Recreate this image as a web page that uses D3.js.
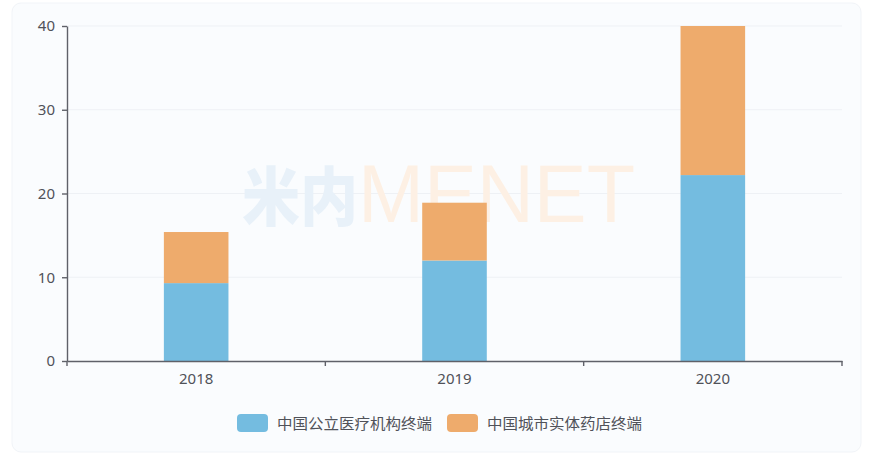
<!DOCTYPE html>
<html>
<head>
<meta charset="utf-8">
<script src="https://cdn.jsdelivr.net/npm/d3@7/dist/d3.min.js"></script>
<style>
  html, body { margin: 0; padding: 0; background: #ffffff; }
  svg { display: block; }
</style>
</head>
<body>
<svg id="chart" width="870" height="462"></svg>
<script>
const categories = ["2018", "2019", "2020"];
const seriesNames = ["中国公立医疗机构终端", "中国城市实体药店终端"];
const publicValues = [9.3, 12.0, 22.2];
const pharmacyValues = [6.1, 6.9, 17.8];
const yTicks = [0, 10, 20, 30, 40];
const colors = ["#74bce0", "#eeab6c"];

(function () {
const svg = d3.select("#chart");
const mLeft = 67, mRight = 842, mTop = 26, mBottom = 361;
const font = "'Noto Sans', 'Noto Sans CJK SC', sans-serif";

// card background
svg.append("rect").attr("x", 12).attr("y", 3).attr("width", 849).attr("height", 449)
  .attr("rx", 9).attr("fill", "#fafcfe").attr("stroke", "#f1f4f8").attr("stroke-width", 1);

const x = d3.scaleBand().domain(categories).range([mLeft, mRight]).padding(0);
const xBar = d3.scaleBand().domain(categories).range([mLeft, mRight]).paddingInner(0.75).paddingOuter(0.375);
const y = d3.scaleLinear().domain([0, 40]).range([mBottom, mTop]);

// gridlines
svg.append("g").selectAll("line").data(yTicks.filter(d => d > 0)).join("line")
  .attr("x1", mLeft).attr("x2", mRight)
  .attr("y1", d => y(d)).attr("y2", d => y(d))
  .attr("stroke", "#eef1f5").attr("stroke-width", 1);

// watermark
const wm = svg.append("g");
wm.append("text").attr("x", 242).attr("y", 220).text("米内")
  .attr("font-family", "'Noto Sans CJK SC', sans-serif").attr("font-weight", 900)
  .attr("font-size", 64).attr("fill", "#e8f1f9").attr("textLength", 116).attr("lengthAdjust", "spacingAndGlyphs");
wm.append("text").attr("x", 358).attr("y", 222).text("MENET")
  .attr("font-family", "'Liberation Sans', Arial, sans-serif").attr("font-weight", 400)
  .attr("font-size", 82).attr("fill", "#fdf0e4").attr("textLength", 277).attr("lengthAdjust", "spacingAndGlyphs");

// stacked bars
const data = categories.map((c, i) => ({ cat: c, pub: publicValues[i], ph: pharmacyValues[i] }));
const stack = d3.stack().keys(["pub", "ph"])(data);
svg.append("g").selectAll("g").data(stack).join("g")
  .attr("fill", (d, i) => colors[i])
  .selectAll("rect").data(d => d).join("rect")
  .attr("x", d => xBar(d.data.cat))
  .attr("width", xBar.bandwidth())
  .attr("y", d => y(d[1]))
  .attr("height", d => y(d[0]) - y(d[1]));

// y axis
const yAxis = svg.append("g").attr("transform", `translate(${mLeft},0)`)
  .call(d3.axisLeft(y).tickValues(yTicks).tickSize(5).tickPadding(7).tickSizeOuter(0));
yAxis.select(".domain").attr("stroke", "#5f6169").attr("stroke-width", 1.4);
yAxis.selectAll(".tick line").attr("stroke", "#5f6169").attr("stroke-width", 1.4);
yAxis.selectAll("text").attr("font-family", font).attr("font-size", 15).attr("fill", "#505259");

// x axis
const xAxis = svg.append("g").attr("transform", `translate(0,${mBottom})`)
  .call(d3.axisBottom(x).tickSize(0).tickPadding(12).tickSizeOuter(0));
xAxis.select(".domain").attr("stroke", "#5f6169").attr("stroke-width", 1.4);
xAxis.selectAll("text").attr("font-family", font).attr("font-size", 15).attr("fill", "#505259");
const boundaries = categories.map(c => x(c)).concat([x(categories[categories.length - 1]) + x.bandwidth()]);
xAxis.selectAll("line.bt").data(boundaries).join("line").attr("class", "bt")
  .attr("x1", d => d).attr("x2", d => d).attr("y1", 0).attr("y2", 5)
  .attr("stroke", "#5f6169").attr("stroke-width", 1.4);

// legend
const legendX = [237, 447];
const lg = svg.append("g").selectAll("g").data(seriesNames).join("g")
  .attr("transform", (d, i) => `translate(${legendX[i]},414)`);
lg.append("rect").attr("width", 31).attr("height", 18).attr("rx", 4)
  .attr("fill", (d, i) => colors[i]);
lg.append("text").attr("x", 40).attr("y", 14.5).text(d => d)
  .attr("font-family", "'Noto Sans CJK SC', sans-serif").attr("font-size", 15)
  .attr("textLength", 155).attr("lengthAdjust", "spacingAndGlyphs").attr("fill", "#505259");
})();
</script>
</body>
</html>
